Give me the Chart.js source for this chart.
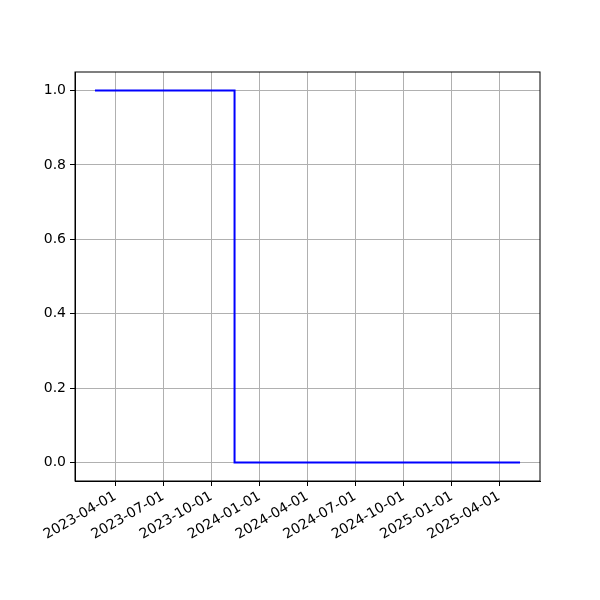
<!DOCTYPE html>
<html>
<head>
<meta charset="utf-8">
<script src="https://cdn.jsdelivr.net/npm/chart.js@4"></script>
<style>
  html, body { margin: 0; padding: 0; background: #fff; }
  #wrap { width: 600px; height: 600px; }
</style>
</head>
<body>
<div id="wrap"><canvas id="step_chart"></canvas></div>
<script>
// data (dates as yyyy-mm-dd)
const step_dates = ['2023-02-21', '2023-11-14', '2025-05-11'];
const step_values = [1, 0, 0];
const x_tick_labels = ['2023-04-01', '2023-07-01', '2023-10-01', '2024-01-01', '2024-04-01',
                       '2024-07-01', '2024-10-01', '2025-01-01', '2025-04-01'];
const y_tick_values = [0.0, 0.2, 0.4, 0.6, 0.8, 1.0];

const toMs = s => Date.parse(s + 'T00:00:00Z');
const fmtDate = v => new Date(v).toISOString().slice(0, 10);

const x_min = toMs('2023-01-14');
const x_max = toMs('2025-06-18');

// frame on all four sides, like matplotlib
const framePlugin = {
  id: 'frame',
  afterDraw(chart) {
    const { ctx, chartArea: a } = chart;
    ctx.save();
    ctx.strokeStyle = '#000';
    ctx.lineWidth = 1;
    ctx.strokeRect(a.left, a.top, a.right - a.left, a.bottom - a.top);
    ctx.restore();
  }
};

const step_config = {
  type: 'line',
  data: {
    datasets: [{
      data: step_dates.map((d, i) => ({ x: toMs(d), y: step_values[i] })),
      borderColor: '#0000ff',
      borderWidth: 2,
      pointRadius: 0,
      stepped: 'before',
      fill: false
    }]
  },
  options: {
    responsive: true,
    maintainAspectRatio: false,
    animation: false,
    layout: { padding: { top: 72, right: 60, left: 0, bottom: 0 } },
    plugins: { legend: { display: false }, tooltip: { enabled: false } },
    scales: {
      x: {
        type: 'linear',
        min: x_min,
        max: x_max,
        afterBuildTicks: axis => { axis.ticks = x_tick_labels.map(s => ({ value: toMs(s) })); },
        afterFit: axis => { axis.height = 119; },
        ticks: {
          callback: v => fmtDate(v),
          autoSkip: false,
          maxRotation: 30,
          minRotation: 30,
          color: '#000',
          font: { family: 'DejaVu Sans', size: 14 },
          padding: 2
        },
        grid: { color: '#b0b0b0', tickColor: '#000', tickLength: 5, lineWidth: 1 },
        border: { color: '#000' }
      },
      y: {
        type: 'linear',
        min: -0.05,
        max: 1.05,
        afterBuildTicks: axis => { axis.ticks = y_tick_values.map(v => ({ value: v })); },
        afterFit: axis => { axis.width = 75; },
        ticks: {
          callback: v => v.toFixed(1),
          color: '#000',
          font: { family: 'DejaVu Sans', size: 14 },
          padding: 4
        },
        grid: { color: '#b0b0b0', tickColor: '#000', tickLength: 5, lineWidth: 1 },
        border: { color: '#000' }
      }
    }
  },
  plugins: [framePlugin]
};

var step_chart = new Chart(document.getElementById('step_chart'), step_config);
</script>
</body>
</html>
